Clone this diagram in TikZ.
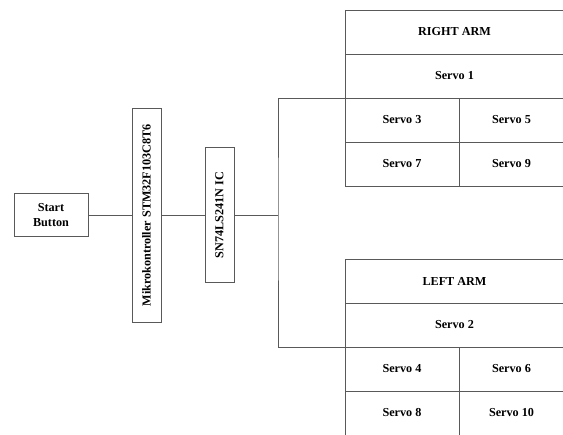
\documentclass[tikz,border=0pt]{standalone}
\usepackage{fontspec}
\setmainfont{Liberation Serif}
\tikzset{
    block/.style={draw=black!65, line width=0.8pt, font=\fontsize{10.4}{12.5}\selectfont\bfseries, align=center, inner sep=0pt, outer sep=0pt},
    cell/.style={draw=black!65, line width=0.8pt, font=\fontsize{10.4}{12.5}\selectfont\bfseries, inner sep=0pt, outer sep=0pt, anchor=north west, minimum height=1.32cm},
    wire/.style={draw=black!65, line width=0.8pt},
}

\begin{document}
\begin{tikzpicture}
    \useasboundingbox (0,0) rectangle (16.89,13.02);

    % Start button, controller and buffer chip
    \node[block, minimum width=2.22cm, minimum height=1.29cm] (start) at (1.53,6.56) {Start\\Button};
    \node[block, rotate=90, minimum width=6.42cm, minimum height=0.87cm] (mcu) at (4.395,6.56) {Mikrokontroller STM32F103C8T6};
    \node[block, rotate=90, minimum width=4.05cm, minimum height=0.87cm] (buffer) at (6.585,6.56) {SN74LS241N IC};
    \coordinate (bus) at (8.34,6.56);

    \draw[wire] (start) -- (mcu);
    \draw[wire] (mcu) -- (buffer);
    \draw[wire] (buffer) -- (bus);

    % Right arm servos
    \begin{scope}[shift={(10.35,12.72)}]
        \node[cell, minimum width=6.57cm] (rightarm) at (0,0) {RIGHT ARM};
        \node[cell, minimum width=6.57cm] (servoone) at (rightarm.south west) {Servo 1};
        \node[cell, minimum width=3.42cm] (servothree) at (servoone.south west) {Servo 3};
        \node[cell, minimum width=3.15cm] (servofive) at (servothree.north east) {Servo 5};
        \node[cell, minimum width=3.42cm] (servoseven) at (servothree.south west) {Servo 7};
        \node[cell, minimum width=3.15cm] (servonine) at (servoseven.north east) {Servo 9};
    \end{scope}

    % Left arm servos
    \begin{scope}[shift={(10.35,5.25)}]
        \node[cell, minimum width=6.57cm] (leftarm) at (0,0) {LEFT ARM};
        \node[cell, minimum width=6.57cm] (servotwo) at (leftarm.south west) {Servo 2};
        \node[cell, minimum width=3.42cm] (servofour) at (servotwo.south west) {Servo 4};
        \node[cell, minimum width=3.15cm] (servosix) at (servofour.north east) {Servo 6};
        \node[cell, minimum width=3.42cm] (servoeight) at (servofour.south west) {Servo 8};
        \node[cell, minimum width=3.15cm] (servoten) at (servoeight.north east) {Servo 10};
    \end{scope}

    % Branch to both arms
    \draw[wire] (servoone.south west) -| (bus) |- (servotwo.south west);

\end{tikzpicture}
\end{document}
